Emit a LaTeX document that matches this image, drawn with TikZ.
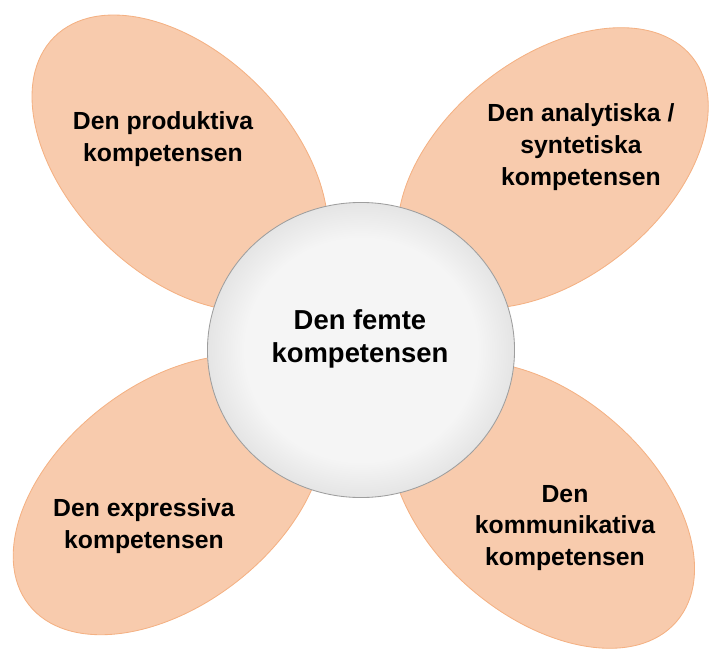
\documentclass[tikz,border=0pt]{standalone}
\usepackage{fontspec}
\setmainfont{Liberation Sans}
\usetikzlibrary{shapes.geometric}
\definecolor{petalF}{HTML}{F8CBAD}
\definecolor{petalD}{HTML}{F4B183}
\pgfdeclareradialshading{ballS}{\pgfpoint{0bp}{0bp}}{color(0bp)=(black!4);color(19bp)=(black!4);color(35bp)=(black!21);color(50bp)=(black!21)}

\begin{document}
\begin{tikzpicture}[x=0.025cm,y=-0.025cm,petal/.style={fill=petalF,draw=petalD,line width=0.6pt},petaltext/.style={font=\bfseries\fontsize{17.6}{22.5}\selectfont,align=center},ball/.style={shape=ellipse,shading=ballS,draw=black!38,line width=0.6pt,minimum width=7.675cm,minimum height=7.375cm,inner sep=0pt},balltext/.style={font=\bfseries\fontsize{19.5}{23.5}\selectfont,align=center}]
\def\petA{178}
\def\petB{110}

\useasboundingbox (0,0) rectangle (710,650);

\path[petal,rotate around={-45:(180,163)}] (180,163) ellipse ({\petA} and {\petB});
\path[petal,rotate around={38.5:(553,168)}] (553,168) ellipse ({\petA} and {\petB});
\path[petal,rotate around={38:(169,495)}] (169,495) ellipse ({\petA} and {\petB});
\path[petal,rotate around={-41:(542,505)}] (542,505) ellipse ({\petA} and {\petB});

\node[ball] (femte) at (361,350) {};
\node[balltext] (femteT) at (360,339) {Den femte\\kompetensen};

\node[petaltext] (prod) at (163,139) {Den produktiva\\kompetensen};
\node[petaltext] (anal) at (581,147) {Den analytiska /\\syntetiska\\kompetensen};
\node[petaltext] (expr) at (144,526) {Den expressiva\\kompetensen};
\node[petaltext] (komm) at (565,528) {Den\\kommunikativa\\kompetensen};
\end{tikzpicture}
\end{document}
